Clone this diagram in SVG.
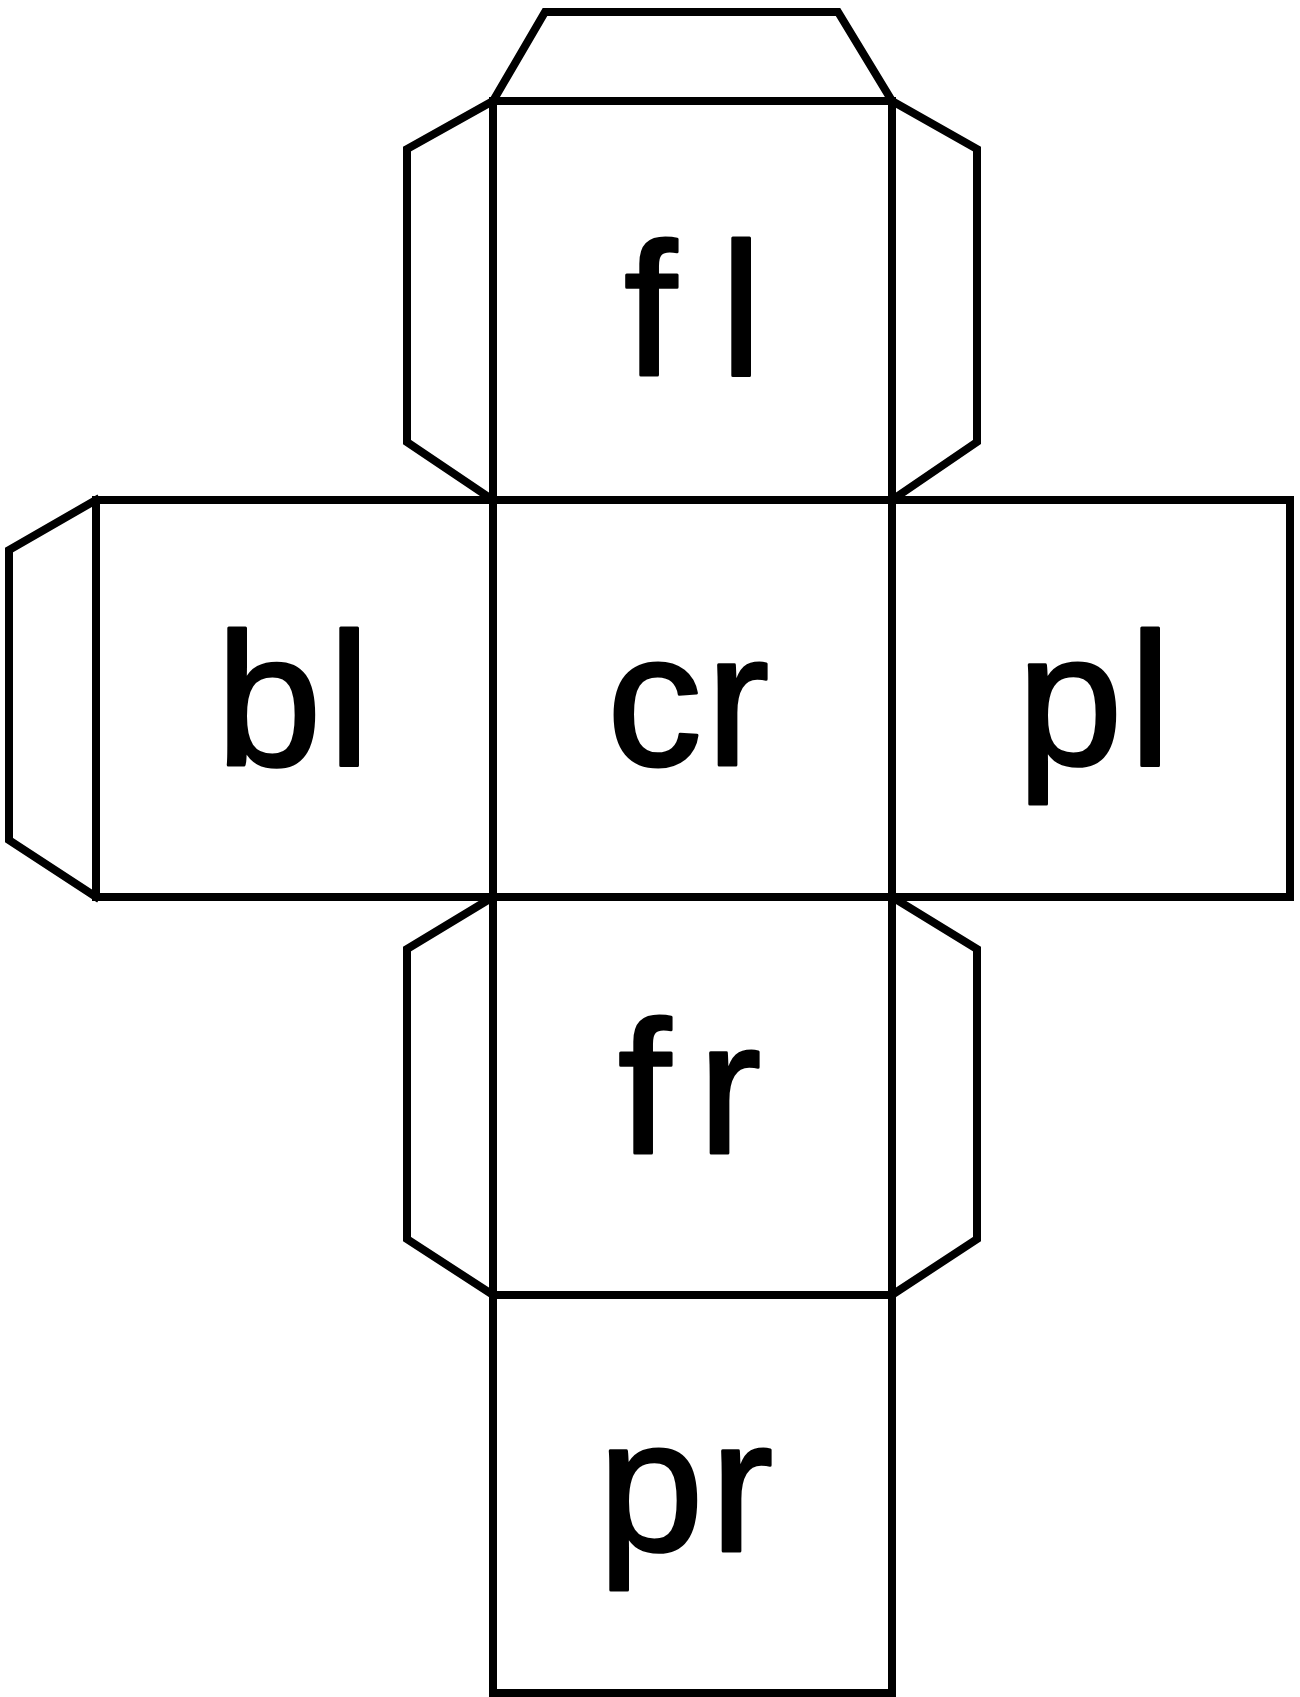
<svg xmlns="http://www.w3.org/2000/svg" width="1300" height="1697" viewBox="0 0 1300 1697">
<style>
.ln{fill:none;stroke:#000;stroke-width:8;stroke-linejoin:miter;stroke-linecap:square}
.lb{font-family:"Liberation Sans",Arial,sans-serif;font-size:190px;fill:#000;stroke:#000;stroke-width:3;stroke-linejoin:round}
</style>
<rect width="1300" height="1697" fill="#fff"/>
<g id="flap-top"><polyline class="ln" points="493,101 545,12 838,12 892,101"/></g>
<g id="flap-fl-left"><polyline class="ln" points="493,101 407,149 407,442 493,500"/></g>
<g id="flap-fl-right"><polyline class="ln" points="892,101 977,149 977,442 892,500"/></g>
<g id="flap-bl-left"><polyline class="ln" points="96,500 9,550 9,840 96,897"/></g>
<g id="flap-fr-left"><polyline class="ln" points="493,897 407,949 407,1239 493,1295"/></g>
<g id="flap-fr-right"><polyline class="ln" points="892,897 977,949 977,1239 892,1295"/></g>
<g id="face-fl"><rect class="ln" x="493" y="101" width="399" height="399"/><text class="lb" x="624 720" y="375">fl</text></g>
<g id="face-bl"><rect class="ln" x="96" y="500" width="397" height="397"/><text class="lb" x="216 328" y="765">bl</text></g>
<g id="face-cr"><rect class="ln" x="493" y="500" width="399" height="397"/><text class="lb" x="607 706" y="765">cr</text></g>
<g id="face-pl"><rect class="ln" x="892" y="500" width="398" height="397"/><text class="lb" x="1017 1129" y="765">pl</text></g>
<g id="face-fr"><rect class="ln" x="493" y="897" width="399" height="398"/><text class="lb" x="618 698" y="1153">fr</text></g>
<g id="face-pr"><rect class="ln" x="493" y="1295" width="399" height="398"/><text class="lb" x="598 710" y="1551">pr</text></g>
</svg>
